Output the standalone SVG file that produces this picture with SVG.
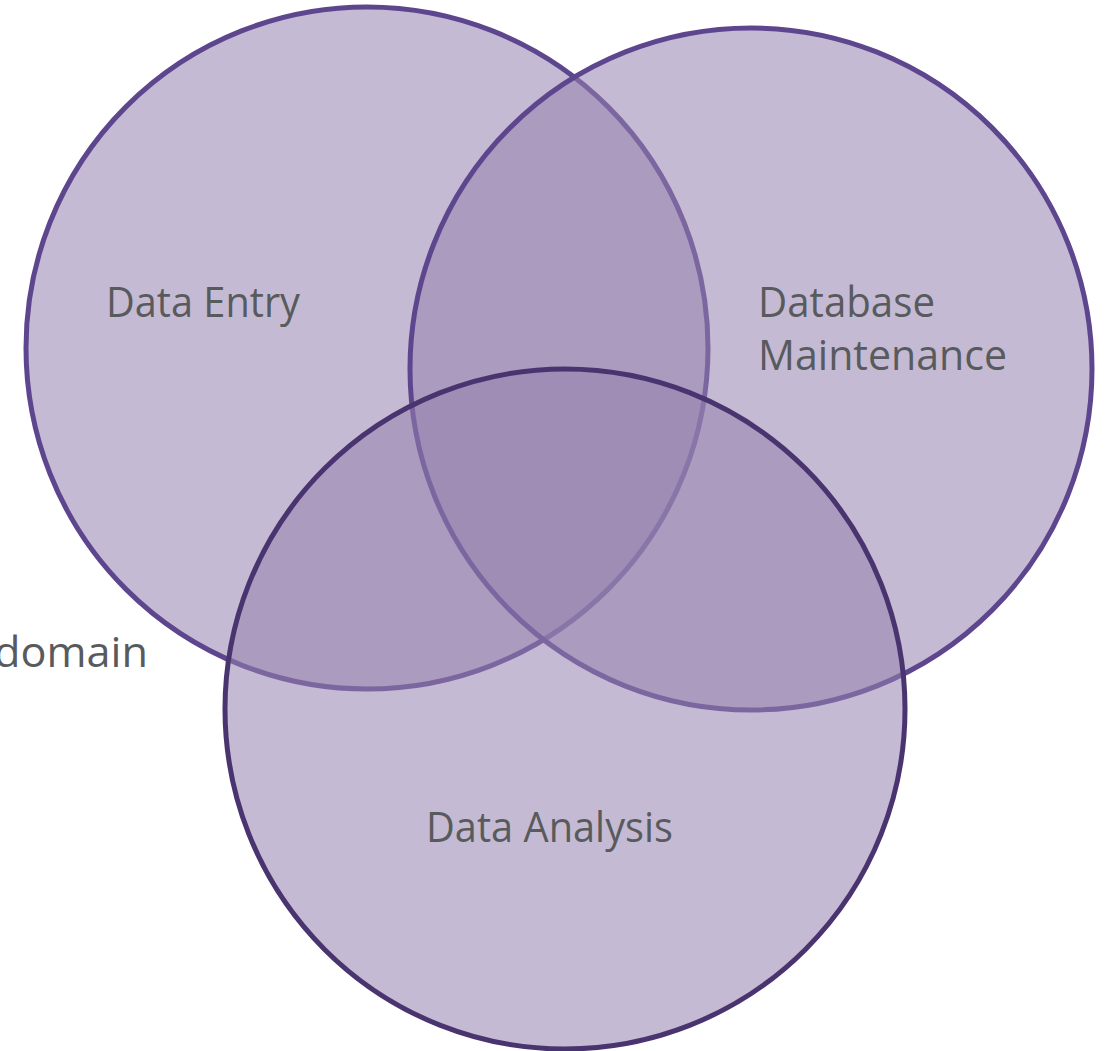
<svg xmlns="http://www.w3.org/2000/svg" width="1107" height="1051" viewBox="0 0 1107 1051">
  <style>
    .set { fill: rgb(150,130,175); fill-opacity: 0.55; stroke-width: 5; }
    .top { stroke: #5e468f; }
    .low { stroke: #4a3470; }
    .label { font-family: "Open Sans", "Noto Sans", "Liberation Sans", sans-serif; font-size: 42px; fill: #585a5d; }
  </style>
  <rect width="1107" height="1051" fill="#ffffff"/>
  <text class="label" x="-6" y="667" textLength="154" lengthAdjust="spacingAndGlyphs">domain</text>
  <g id="data-entry">
    <circle class="set top" cx="367" cy="348" r="341"/>
  </g>
  <g id="database-maintenance">
    <circle class="set top" cx="751" cy="369" r="341"/>
  </g>
  <g id="data-analysis">
    <circle class="set low" cx="565" cy="709" r="340"/>
  </g>
  <g id="labels">
    <text class="label" x="106" y="317" textLength="194" lengthAdjust="spacingAndGlyphs">Data Entry</text>
    <text class="label" x="758" y="317" textLength="177" lengthAdjust="spacingAndGlyphs">Database</text>
    <text class="label" x="758" y="370" textLength="249" lengthAdjust="spacingAndGlyphs">Maintenance</text>
    <text class="label" x="426" y="842" textLength="247" lengthAdjust="spacingAndGlyphs">Data Analysis</text>
  </g>
  <g id="connectors"/>
</svg>
